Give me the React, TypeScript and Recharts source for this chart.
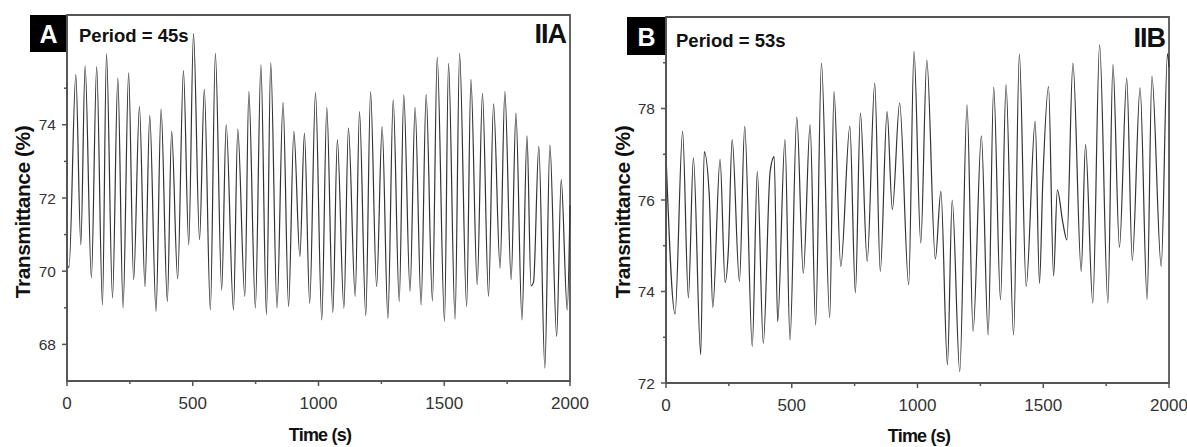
import React from "react";
import { LineChart, Line, XAxis, YAxis, ReferenceArea } from "recharts";

// Panel A (IIA) - peaks and troughs
const timeA = [
  0, 8, 35, 55, 72, 97, 118, 141, 157, 181, 202, 223, 245, 265, 288, 310, 329, 354,
  374, 399, 416, 440, 463, 484, 503, 527, 546, 570, 590, 615, 633, 662, 679, 707,
  723, 749, 771, 793, 810, 835, 859, 881, 902, 926, 944, 965, 988, 1013, 1033, 1057,
  1075, 1101, 1119, 1146, 1163, 1188, 1207, 1231, 1253, 1276, 1297, 1321, 1339, 1364,
  1384, 1408, 1428, 1453, 1472, 1501, 1517, 1543, 1561, 1589, 1606, 1631, 1652, 1676,
  1696, 1722, 1741, 1766, 1785, 1809, 1829, 1845, 1855, 1876, 1900, 1920, 1947, 1965,
  1989, 2000,
];
const transA = [
  70.2, 70.1, 75.37, 70.72, 75.61, 69.82, 75.59, 69.08, 75.94, 69.27, 75.28, 69.0,
  75.42, 69.77, 74.5, 69.58, 74.25, 68.9, 74.43, 69.17, 73.82, 69.79, 75.48, 70.72,
  76.5, 70.86, 74.97, 68.94, 75.95, 69.49, 74.0, 68.94, 73.88, 69.31, 74.91, 69.0,
  75.64, 68.81, 75.7, 69.0, 74.61, 69.03, 73.82, 70.4, 73.77, 69.12, 74.88, 68.67,
  74.47, 68.87, 73.59, 68.99, 73.91, 69.31, 74.36, 68.78, 74.91, 69.58, 73.95, 68.71,
  74.68, 69.17, 74.82, 69.45, 74.48, 69.08, 74.83, 69.19, 75.84, 68.63, 75.68, 68.69,
  75.95, 69.03, 75.24, 69.63, 74.86, 69.31, 74.57, 70.08, 74.91, 69.77, 74.32, 68.67,
  73.7, 69.6, 69.7, 73.41, 67.35, 73.45, 68.22, 72.5, 68.94, 71.8,
];

// Panel B (IIB)
const timeB = [
  0, 36, 66, 89, 109, 138, 152, 172, 186, 215, 235, 248, 263, 292, 313, 343, 363, 387,
  414, 430, 444, 473, 493, 520, 546, 573, 595, 618, 651, 668, 695, 731, 753, 773, 800,
  830, 852, 879, 900, 929, 965, 986, 1013, 1037, 1071, 1093, 1119, 1138, 1168, 1197,
  1221, 1254, 1281, 1303, 1330, 1352, 1382, 1405, 1432, 1468, 1485, 1498, 1521, 1541,
  1556, 1578, 1594, 1618, 1651, 1668, 1697, 1724, 1757, 1777, 1803, 1832, 1854, 1885,
  1913, 1932, 1969, 1994, 2000,
];
const transB = [
  77.0, 73.51, 77.5, 73.86, 76.92, 72.62, 77.06, 76.11, 73.65, 76.89, 74.2, 74.91,
  77.32, 74.22, 77.61, 72.8, 76.62, 72.87, 76.62, 76.95, 73.34, 77.32, 72.94, 77.81,
  74.4, 77.64, 73.27, 78.99, 73.43, 78.37, 74.55, 77.61, 73.97, 77.9, 74.66, 78.55,
  74.44, 77.93, 75.79, 78.12, 74.15, 79.25, 75.06, 79.06, 74.71, 76.19, 72.4, 76.0,
  72.25, 78.08, 73.13, 77.4, 73.05, 78.47, 73.82, 78.52, 73.05, 79.19, 74.11, 77.72,
  74.18, 76.37, 78.48, 74.34, 76.22, 75.5, 75.13, 78.99, 74.44, 77.21, 73.75, 79.39,
  73.75, 78.96, 74.97, 78.66, 74.68, 78.45, 73.83, 78.7, 74.55, 79.2, 78.9,
];

const xTicks = [0, 250, 500, 750, 1000, 1250, 1500, 1750, 2000];
const yTicksA = [68, 69, 70, 71, 72, 73, 74, 75];
const yTicksB = [72, 73, 74, 75, 76, 77, 78, 79];

const dataA = timeA.map((t, i) => ({ t, v: transA[i] }));
const dataB = timeB.map((t, i) => ({ t, v: transB[i] }));

const AXIS = "#555";
const BOLD = "'Liberation Sans', Arial, sans-serif";
const NARROW = "'Liberation Sans Narrow', 'Arial Narrow', 'Liberation Sans', sans-serif";

function YTick({ x, y, payload }: any) {
  const major = payload.value % 2 === 0;
  return (
    <g>
      <line x1={x - (major ? 5 : 3)} x2={x} y1={y} y2={y} stroke={AXIS} strokeWidth={1.5} />
      {major && (
        <text x={x - 11} y={y + 5.5} textAnchor="end" fontSize={15.5} fill="#333" fontFamily={BOLD}>
          {payload.value}
        </text>
      )}
    </g>
  );
}

function XTick({ x, y, payload }: any) {
  const major = payload.value % 500 === 0;
  return (
    <g>
      <line x1={x} x2={x} y1={y} y2={y + (major ? 5 : 3)} stroke={AXIS} strokeWidth={1.5} />
      {major && (
        <text x={x} y={y + 28} textAnchor="middle" fontSize={17} fill="#333" fontFamily={NARROW}>
          {payload.value}
        </text>
      )}
    </g>
  );
}

function Panel({ data, width, margin, yDomain, yTicks, letter, boxX, boxW, boxY, boxH, period, periodX, periodY, tag, tagX, tagY, titleX, titleY, yTitleX, yTitleY }: any) {
  return (
    <LineChart width={width} height={447} data={data} margin={margin}>
      <XAxis
        dataKey="t"
        type="number"
        domain={[0, 2000]}
        ticks={xTicks}
        tick={<XTick />}
        tickSize={0}
        tickMargin={0}
        tickLine={false}
        height={30}
        axisLine={{ stroke: AXIS, strokeWidth: 1.8 }}
      />
      <YAxis
        type="number"
        domain={yDomain}
        ticks={yTicks}
        tick={<YTick />}
        tickSize={0}
        tickMargin={0}
        tickLine={false}
        width={40}
        axisLine={{ stroke: AXIS, strokeWidth: 1.8 }}
      />
      <ReferenceArea x1={0} x2={2000} y1={yDomain[0]} y2={yDomain[1]} fill="none" stroke={AXIS} strokeWidth={1.8} ifOverflow="visible" />
      <Line type="monotone" dataKey="v" stroke="#333" strokeWidth={1.2} dot={false} isAnimationActive={false} />
      <rect x={boxX} y={boxY} width={boxW} height={boxH} fill="#000" />
      <text x={boxX + boxW / 2} y={boxY + boxH - 9} textAnchor="middle" fontSize={25} fontWeight="bold" fill="#fff" fontFamily={BOLD}>
        {letter}
      </text>
      <text x={periodX} y={periodY} fontSize={18.5} fontWeight="bold" fill="#111" fontFamily={BOLD}>
        {period}
      </text>
      <text x={tagX} y={tagY} textAnchor="end" fontSize={27} fontWeight="bold" fill="#111" fontFamily={BOLD} letterSpacing={-1}>
        {tag}
      </text>
      <text x={titleX} y={titleY} textAnchor="middle" fontSize={18} fontWeight="bold" fill="#111" fontFamily={BOLD} letterSpacing={-0.8}>
        Time (s)
      </text>
      <text
        x={yTitleX}
        y={yTitleY}
        transform={`rotate(-90 ${yTitleX} ${yTitleY})`}
        textAnchor="middle"
        dominantBaseline="central"
        fontSize={21}
        fontWeight="bold"
        fill="#111"
        fontFamily={BOLD}
        letterSpacing={-0.5}
      >
        Transmittance (%)
      </text>
    </LineChart>
  );
}

export default function App() {
  return (
    <div style={{ position: "absolute", left: 0, top: 0, width: 1187, height: 447, background: "#fff" }}>
      <div style={{ position: "absolute", left: 0, top: 0 }}>
        <Panel
          data={dataA}
          width={600}
          margin={{ top: 15, right: 30, bottom: 36, left: 27 }}
          yDomain={[67, 77]}
          yTicks={yTicksA}
          letter="A"
          boxX={30}
          boxY={15}
          boxW={37}
          boxH={37}
          period="Period = 45s"
          periodX={79}
          periodY={42}
          tag="IIA"
          tagX={566}
          tagY={43}
          titleX={320}
          titleY={441}
          yTitleX={22}
          yTitleY={212}
        />
      </div>
      <div style={{ position: "absolute", left: 600, top: 0 }}>
        <Panel
          data={dataB}
          width={587}
          margin={{ top: 17, right: 18, bottom: 34, left: 26 }}
          yDomain={[72, 80]}
          yTicks={yTicksB}
          letter="B"
          boxX={27}
          boxY={17}
          boxW={39}
          boxH={38}
          period="Period = 53s"
          periodX={76}
          periodY={46.5}
          tag="IIB"
          tagX={565}
          tagY={47}
          titleX={319}
          titleY={442}
          yTitleX={22}
          yTitleY={212}
        />
      </div>
    </div>
  );
}
